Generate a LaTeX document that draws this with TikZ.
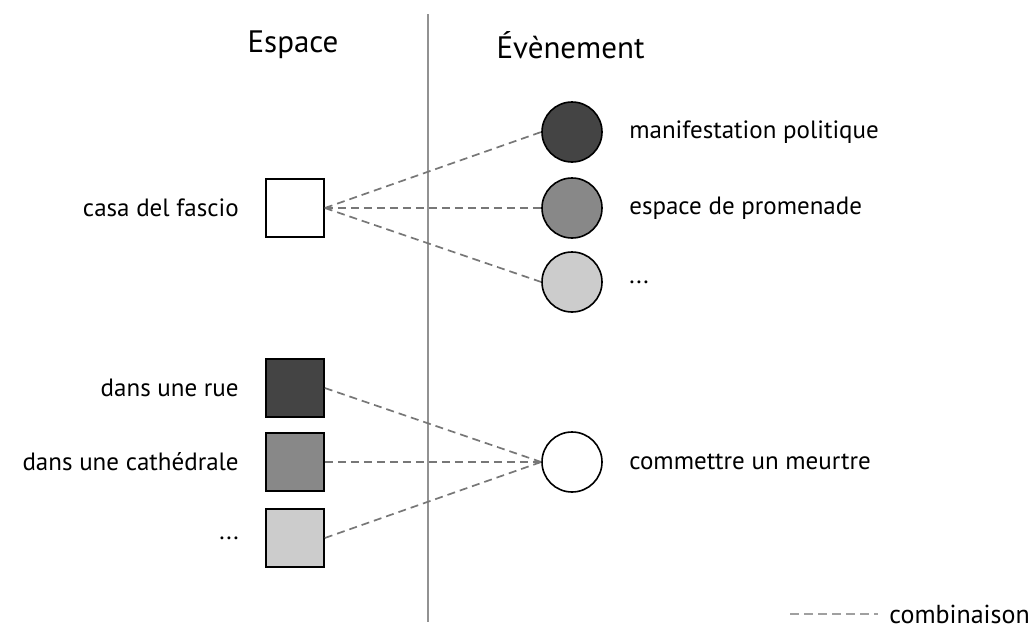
\documentclass[tikz,border=0pt]{standalone}
\usepackage{fontspec}
\setmainfont{PT Sans}
\usetikzlibrary{positioning}
\definecolor{tonedark}{HTML}{444444}
\definecolor{tonemid}{HTML}{888888}
\definecolor{tonelight}{HTML}{CCCCCC}
\definecolor{linegray}{HTML}{777777}
\begin{document}
\begin{tikzpicture}[x=1pt,y=-1pt,
  every node/.style={font=\fontsize{25}{28}\selectfont},
  espace/.style={draw,line width=1.6pt,minimum size=58pt,inner sep=0pt},
  event/.style={draw,circle,line width=1.6pt,minimum size=60pt,inner sep=0pt},
  combi/.style={draw=linegray,line width=1.7pt,dash pattern=on 8pt off 5pt}]
  \useasboundingbox (0,0) rectangle (1035,637);
  \draw[linegray!80,line width=2pt] (428,14)--(428,622);
  \node[font=\fontsize{31}{34}\selectfont] (hespace) at (293,45) {Espace};
  \node[font=\fontsize{31}{34}\selectfont,anchor=west] (hevent) at (493,45) {Évènement};
  % espaces
  \node[espace,fill=white] (fascio) at (295,208) {};
  \node[espace,fill=tonedark] (rue) at (295,388) {};
  \node[espace,fill=tonemid] (cathedrale) at (295,462) {};
  \node[espace,fill=tonelight] (autre) at (295,538) {};
  \node[left=23pt of fascio] (lfascio) {casa del fascio};
  \node[left=23pt of rue] (lrue) {dans une rue};
  \node[left=23pt of cathedrale] (lcathedrale) {dans une cathédrale};
  \node[left=23pt of autre] (lautre) {...};
  % evenements
  \node[event,fill=tonedark] (manif) at (572,132) {};
  \node[event,fill=tonemid] (promenade) at (572,208) {};
  \node[event,fill=tonelight] (evautre) at (572,282) {};
  \node[event,fill=white] (meurtre) at (572,462) {};
  \node[right=23pt of manif] (lmanif) {manifestation politique};
  \node[right=23pt of promenade] (lpromenade) {espace de promenade};
  \node[right=23pt of evautre] (levautre) {...};
  \node[right=23pt of meurtre] (lmeurtre) {commettre un meurtre};
  % combinaisons
  \foreach \e in {manif,promenade,evautre}
    \draw[combi] (fascio.east)--(\e.west);
  \foreach \s in {rue,cathedrale,autre}
    \draw[combi] (\s.east)--(meurtre.west);
  % legende
  \node[anchor=east,font=\fontsize{26}{28}\selectfont,inner sep=2pt] (lcombi) at (1032,614) {combinaison};
  \coordinate[left=9pt of lcombi.west] (legend);
  \coordinate[left=88pt of legend] (legstart);
  \draw[combi,line width=1.3pt,draw=linegray!70,dash pattern=on 9pt off 5pt] (legstart)--(legend);
\end{tikzpicture}
\end{document}
